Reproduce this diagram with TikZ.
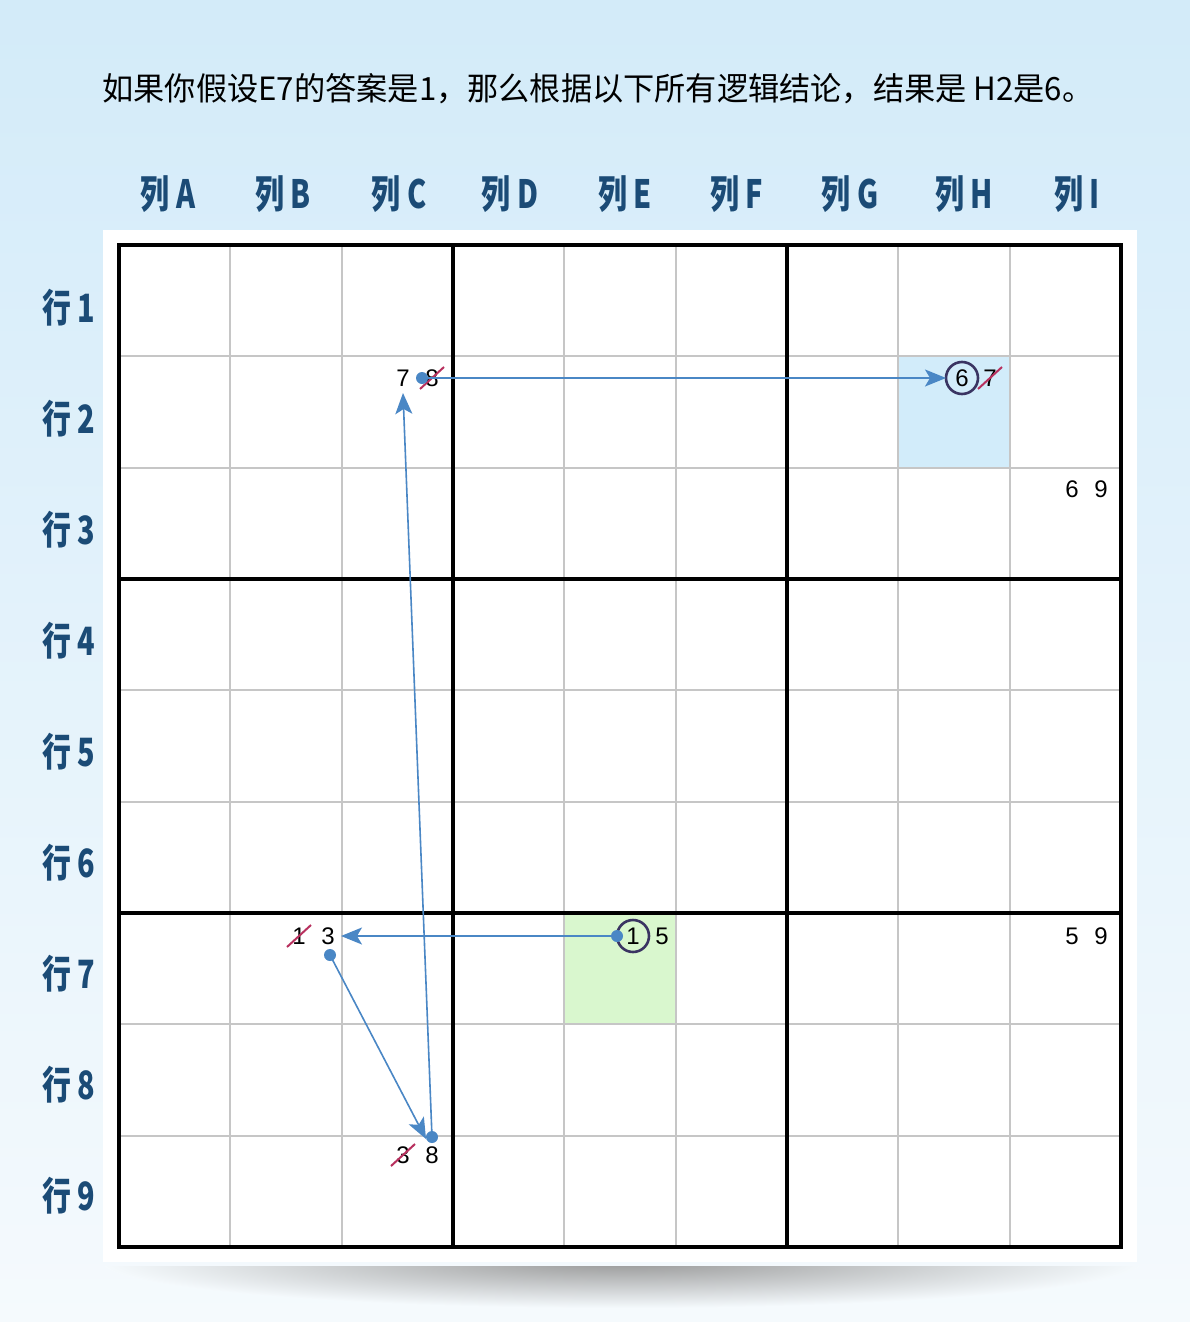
\documentclass[tikz,border=0pt]{standalone}
\usepackage{fontspec}
\usepackage{graphicx}
\setmainfont{Liberation Sans}
\newfontfamily\cjk{Noto Sans CJK SC}
\usetikzlibrary{arrows.meta}
\definecolor{bgtop}{HTML}{D3EBF9}
\definecolor{bgbot}{HTML}{F5FAFD}
\definecolor{lab}{HTML}{1B4B76}
\definecolor{arr}{HTML}{4A87C5}
\definecolor{strk}{HTML}{B8305E}
\definecolor{circc}{HTML}{3A3462}
\definecolor{hlblue}{HTML}{D2ECFA}
\definecolor{hlgreen}{HTML}{D9F7CE}
\definecolor{gridthin}{HTML}{C6C6C6}
\tikzset{
  hdr/.style={font=\cjk\bfseries\fontsize{39}{41}\selectfont, text=lab, inner sep=0pt},
  ttl/.style={font=\cjk\fontsize{32}{34}\selectfont, text=black, inner sep=0pt},
  cand/.style={font=\fontsize{24}{26}\selectfont, text=black, inner sep=0pt},
  thingrid/.style={draw=gridthin, line width=1.8pt},
  thickgrid/.style={draw=black, line width=4pt},
  strikeline/.style={draw=strk, line width=2pt},
  ring/.style={draw=circc, line width=2.6pt},
  link/.style={draw=arr, line width=1.6pt, -{Stealth[length=21pt,width=17pt,inset=5pt]}},
  dotc/.style={fill=arr},
}
\begin{document}
\begin{tikzpicture}[x=1pt,y=-1pt]
\useasboundingbox (0,0) rectangle (1190,1322);
% background
\shade[top color=bgtop, bottom color=bgbot] (0,0) rectangle (1190,1322);
% shadow under panel
\begin{scope}
\clip (90,1266) rectangle (1150,1322);
\shade[inner color=black!40, outer color=bgbot] (622,1262) ellipse [x radius=520pt, y radius=46pt];
\end{scope}
% panel
\fill[white] (103,230) rectangle (1137,1262);
% title
\node[ttl] (title) at (598,89) {\scalebox{0.975}[1]{如果你假设E7的答案是1，那么根据以下所有逻辑结论，结果是 H2是6。}};
% column headers
\foreach \n/\x/\l in {cA/168/A, cB/283/B, cC/399/C, cD/510/D, cE/625/E, cF/737/F, cG/850/G, cH/964/H, cI/1077/I}
  \node[hdr] (\n) at (\x,194) {\scalebox{0.74}[1]{列 \l}};
% row headers
\foreach \r/\y in {1/308, 2/419, 3/530, 4/641, 5/752, 6/863, 7/974, 8/1085, 9/1196}
  \node[hdr] (r\r) at (69,\y) {\scalebox{0.74}[1]{行 \r}};
% highlighted cells
\fill[hlblue] (898,357) rectangle (1009,468);
\fill[hlgreen] (565,914) rectangle (676,1025);
% grid
\foreach \i in {1,2,4,5,7,8} {
  \draw[thingrid] (119+\i*111.333,245) -- (119+\i*111.333,1247);
  \draw[thingrid] (119,245+\i*111.333) -- (1121,245+\i*111.333);
}
\foreach \i in {3,6} {
  \draw[thickgrid] (119+\i*111.333,245) -- (119+\i*111.333,1247);
  \draw[thickgrid] (119,245+\i*111.333) -- (1121,245+\i*111.333);
}
\draw[thickgrid] (119,245) rectangle (1121,1247);
% candidates
\node[cand] (c2a) at (403,378) {7};
\node[cand] (c2b) at (432,378) {8};
\node[cand] (h2a) at (962,378) {6};
\node[cand] (h2b) at (990,378) {7};
\node[cand] (i3a) at (1072,489) {6};
\node[cand] (i3b) at (1101,489) {9};
\node[cand] (b7a) at (299,936) {1};
\node[cand] (b7b) at (328,936) {3};
\node[cand] (e7a) at (633,936) {1};
\node[cand] (e7b) at (662,936) {5};
\node[cand] (i7a) at (1072,936) {5};
\node[cand] (i7b) at (1101,936) {9};
\node[cand] (c9a) at (403,1155) {3};
\node[cand] (c9b) at (432,1155) {8};
% rings
\draw[ring] (h2a.center) circle (16pt);
\draw[ring] (e7a.center) circle (16pt);
% strikes
\foreach \n in {c2b, h2b, b7a, c9a}
  \draw[strikeline] ([shift={(-12,11)}]\n.center) -- ([shift={(12,-11)}]\n.center);
% connector endpoints
\coordinate (d1) at (422,378);
\coordinate (d2) at (617,936);
\coordinate (d3) at (330,955);
\coordinate (d4) at (432,1137);
\coordinate (t1) at (946,378);
\coordinate (t2) at (341,936);
\coordinate (t3) at (426,1139);
\coordinate (t4) at (403,393);
% arrows
\draw[link] (d1) -- (t1);
\draw[link] (d2) -- (t2);
\draw[link] (d3) -- (t3);
\draw[link] (d4) -- (t4);
% dots
\foreach \d in {d1,d2,d3,d4}
  \fill[dotc] (\d) circle (6pt);
\end{tikzpicture}
\end{document}
